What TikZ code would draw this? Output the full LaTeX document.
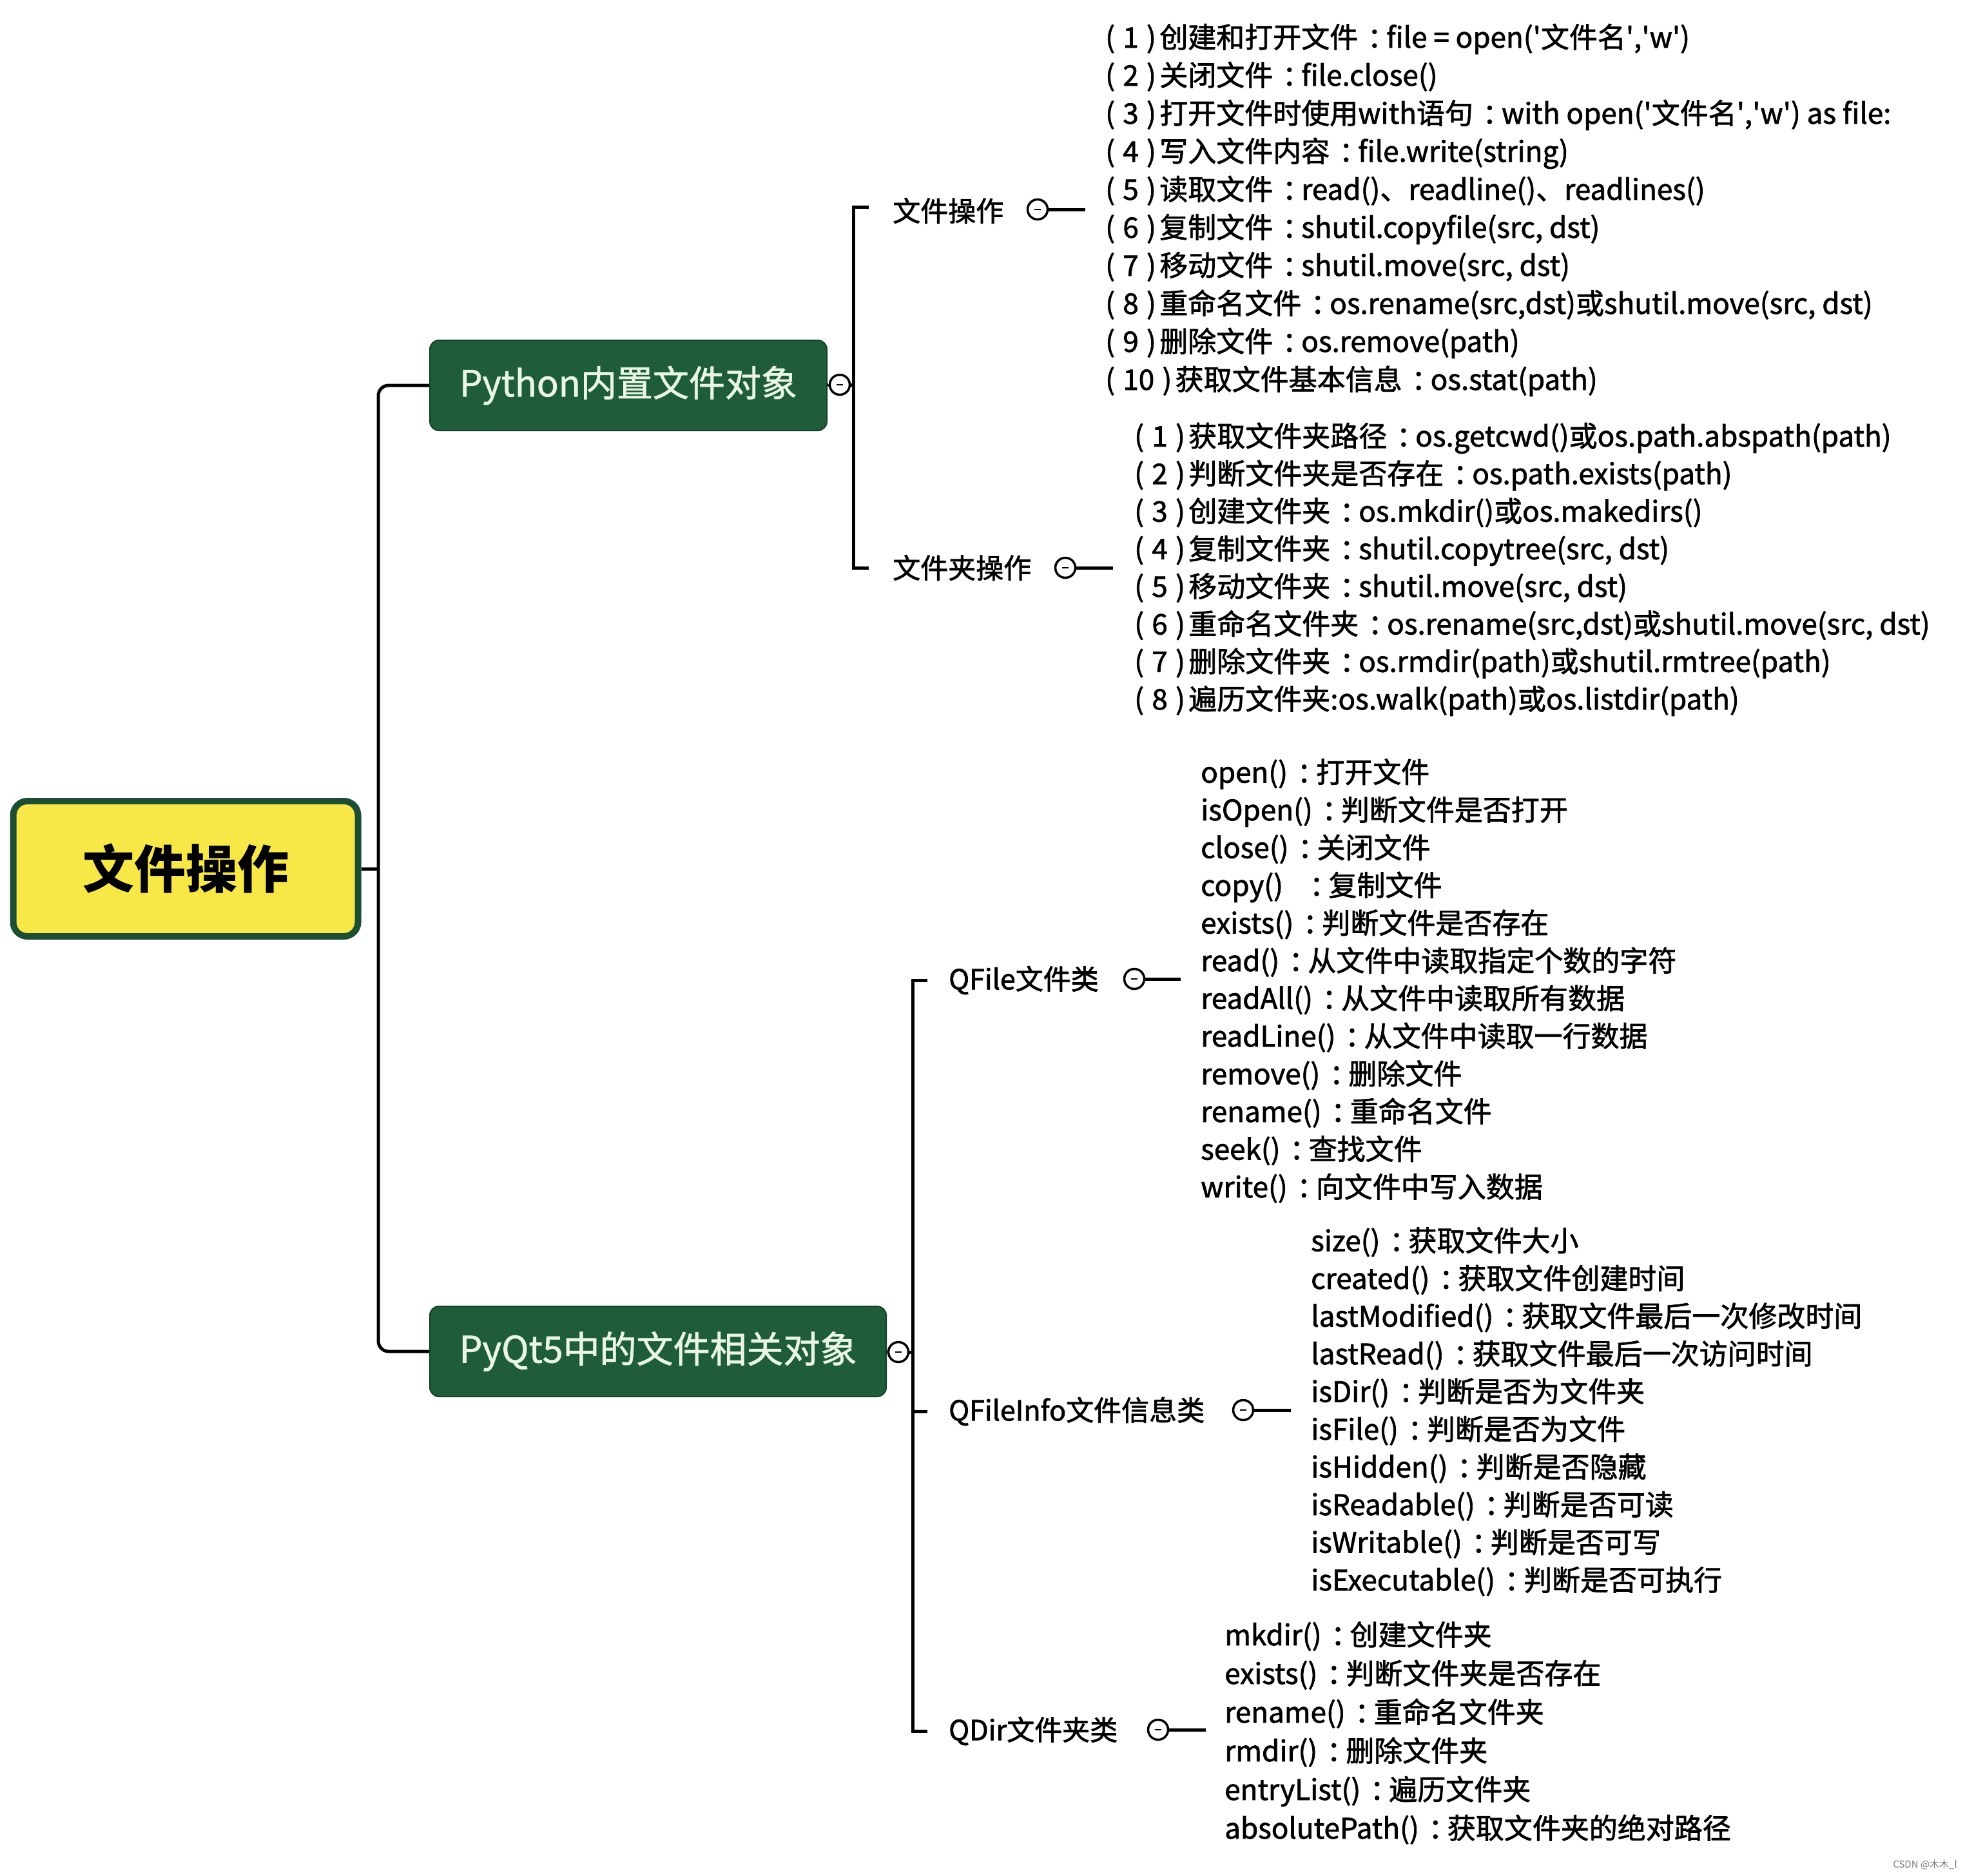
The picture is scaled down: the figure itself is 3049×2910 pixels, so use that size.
\documentclass[tikz,border=0pt]{standalone}
\usepackage{fontspec}
\setmainfont{Noto Sans CJK SC}
\newfontfamily\heavyfont{Noto Sans CJK SC}[FakeBold=1.6]
\newfontfamily\boxfont{Noto Sans CJK SC}[FakeBold=1.2]
\definecolor{rootyellow}{RGB}{247,232,72}
\definecolor{rootgreen}{RGB}{28,78,52}
\definecolor{boxgreen}{RGB}{30,92,58}
\definecolor{boxtext}{RGB}{232,246,226}
\definecolor{wmgray}{RGB}{120,120,120}
\newcommand\itemno[1]{(\kern0.28em#1\kern0.28em)\kern0.12em}
\newcommand\q{\textquotesingle}
% full-width colon, centred in its em box as in the reference
\newcommand\cc{\hbox to 1em{\kern0.33em：\hss}}
\tikzset{
  rootbox/.style={rectangle, rounded corners=22pt, fill=rootyellow, draw=rootgreen,
    line width=10pt, minimum width=535pt, minimum height=210pt,
    font=\fontsize{80}{80}\selectfont\bfseries},
  mainbox/.style={rectangle, rounded corners=14pt, fill=boxgreen, draw=boxgreen!70!black,
    line width=2pt, text=boxtext, minimum height=140pt},
  branch/.style={anchor=west, inner sep=0pt, font=\heavyfont\fontsize{43}{43}\selectfont},
  leaflist/.style={anchor=base west, align=left, inner sep=0pt},
  toggle/.style={circle, draw, line width=3.5pt, fill=white, minimum size=31pt, inner sep=0pt,
    path picture={\draw[line width=2.5pt] ([xshift=-5pt]path picture bounding box.center)
      -- ([xshift=5pt]path picture bounding box.center);}},
  wire/.style={line width=5pt},
}
\begin{document}
\begin{tikzpicture}[x=1pt,y=-1pt]
\useasboundingbox[fill=white] (0,0) rectangle (3049,2910);

% main nodes
\node[rootbox] (root) at (288,1348) {文件操作};
\node[mainbox, minimum width=616pt, font=\boxfont\fontsize{56}{56}\selectfont] (py) at (975,598) {Python内置文件对象};
\node[mainbox, minimum width=708pt, font=\boxfont\fontsize{57}{57}\selectfont] (qt) at (1021,2097) {PyQt5中的文件相关对象};

% trunk
\coordinate (tj) at (587,1348);
\draw[wire, rounded corners=16pt] (py.west) -| (tj) |- (qt.west);
\draw[wire] (root.east) -- (tj);

% Python subtree
\node[toggle] (pyt) at (1303,597) {};
\draw[wire] (py.east) -- (pyt.west);
\coordinate (pbt) at (1348,321);
\coordinate (pbb) at (1348,881);
\coordinate (pbx) at (1324,597);
\draw[wire] (pbt) -- (pbt -| pbx) -- (pbb -| pbx) -- (pbb);
\draw[wire] (pyt.east) -- (pbx);

\node[branch] (fop) at (1385,327) {文件操作};
\node[toggle] (fopt) at (1610,325) {};
\coordinate (fope) at (1684,325);
\draw[wire] (fopt.east) -- (fope);

\node[branch] (dop) at (1385,881) {文件夹操作};
\node[toggle] (dopt) at (1653,881) {};
\coordinate (dope) at (1727,881);
\draw[wire] (dopt.east) -- (dope);

% anchors are at the baseline of each list's last line
\node[leaflist, font=\heavyfont\fontsize{44}{59}\selectfont] (flist) at (1715,605) {%
\itemno{1}创建和打开文件\cc{}file = open(\q{}文件名\q{},\q{}w\q{})\\
\itemno{2}关闭文件\cc{}file.close()\\
\itemno{3}打开文件时使用with语句\cc{}with open(\q{}文件名\q{},\q{}w\q{}) as file:\\
\itemno{4}写入文件内容\cc{}file.write(string)\\
\itemno{5}读取文件\cc{}read()、readline()、readlines()\\
\itemno{6}复制文件\cc{}shutil.copyfile(src, dst)\\
\itemno{7}移动文件\cc{}shutil.move(src, dst)\\
\itemno{8}重命名文件\cc{}os.rename(src,dst)或shutil.move(src, dst)\\
\itemno{9}删除文件\cc{}os.remove(path)\\
\itemno{10}获取文件基本信息\cc{}os.stat(path)};

\node[leaflist, font=\heavyfont\fontsize{44}{58.3}\selectfont] (dlist) at (1760,1101) {%
\itemno{1}获取文件夹路径\cc{}os.getcwd()或os.path.abspath(path)\\
\itemno{2}判断文件夹是否存在\cc{}os.path.exists(path)\\
\itemno{3}创建文件夹\cc{}os.mkdir()或os.makedirs()\\
\itemno{4}复制文件夹\cc{}shutil.copytree(src, dst)\\
\itemno{5}移动文件夹\cc{}shutil.move(src, dst)\\
\itemno{6}重命名文件夹\cc{}os.rename(src,dst)或shutil.move(src, dst)\\
\itemno{7}删除文件夹\cc{}os.rmdir(path)或shutil.rmtree(path)\\
\itemno{8}遍历文件夹:os.walk(path)或os.listdir(path)};

% PyQt5 subtree
\node[toggle] (qtt) at (1394,2098) {};
\draw[wire] (qt.east) -- (qtt.west);
\coordinate (qbx) at (1416,2098);
\coordinate (qb1) at (1439,1521);
\coordinate (qb2) at (1439,2190);
\coordinate (qb3) at (1439,2686);
\draw[wire] (qb1) -- (qb1 -| qbx) -- (qb3 -| qbx) -- (qb3);
\draw[wire] (qb2 -| qbx) -- (qb2);
\draw[wire] (qtt.east) -- (qbx);

\node[branch] (qf) at (1472,1521) {QFile文件类};
\node[toggle] (qft) at (1760,1519) {};
\coordinate (qfe) at (1832,1519);
\draw[wire] (qft.east) -- (qfe);

\node[branch] (qfi) at (1472,2190) {QFileInfo文件信息类};
\node[toggle] (qfit) at (1929,2188) {};
\coordinate (qfie) at (2003,2188);
\draw[wire] (qfit.east) -- (qfie);

\node[branch] (qd) at (1472,2686) {QDir文件夹类};
\node[toggle] (qdt) at (1797,2684) {};
\coordinate (qde) at (1871,2684);
\draw[wire] (qdt.east) -- (qde);

\node[leaflist, font=\heavyfont\fontsize{44}{58.5}\selectfont] (qflist) at (1863,1858) {%
open()\cc{}打开文件\\
isOpen()\cc{}判断文件是否打开\\
close()\cc{}关闭文件\\
copy()\hspace{0.6em}\cc{}复制文件\\
exists()\cc{}判断文件是否存在\\
read()\cc{}从文件中读取指定个数的字符\\
readAll()\cc{}从文件中读取所有数据\\
readLine()\cc{}从文件中读取一行数据\\
remove()\cc{}删除文件\\
rename()\cc{}重命名文件\\
seek()\cc{}查找文件\\
write()\cc{}向文件中写入数据};

\node[leaflist, font=\heavyfont\fontsize{44}{58.5}\selectfont] (qfilist) at (2034,2468) {%
size()\cc{}获取文件大小\\
created()\cc{}获取文件创建时间\\
lastModified()\cc{}获取文件最后一次修改时间\\
lastRead()\cc{}获取文件最后一次访问时间\\
isDir()\cc{}判断是否为文件夹\\
isFile()\cc{}判断是否为文件\\
isHidden()\cc{}判断是否隐藏\\
isReadable()\cc{}判断是否可读\\
isWritable()\cc{}判断是否可写\\
isExecutable()\cc{}判断是否可执行};

\node[leaflist, font=\heavyfont\fontsize{44}{60}\selectfont] (qdlist) at (1900,2853) {%
mkdir()\cc{}创建文件夹\\
exists()\cc{}判断文件夹是否存在\\
rename()\cc{}重命名文件夹\\
rmdir()\cc{}删除文件夹\\
entryList()\cc{}遍历文件夹\\
absolutePath()\cc{}获取文件夹的绝对路径};

\node[anchor=east, text=wmgray, font=\fontsize{15}{15}\selectfont, inner sep=0pt] (wm) at (3037,2893) {CSDN @木木\_l};
\end{tikzpicture}
\end{document}
